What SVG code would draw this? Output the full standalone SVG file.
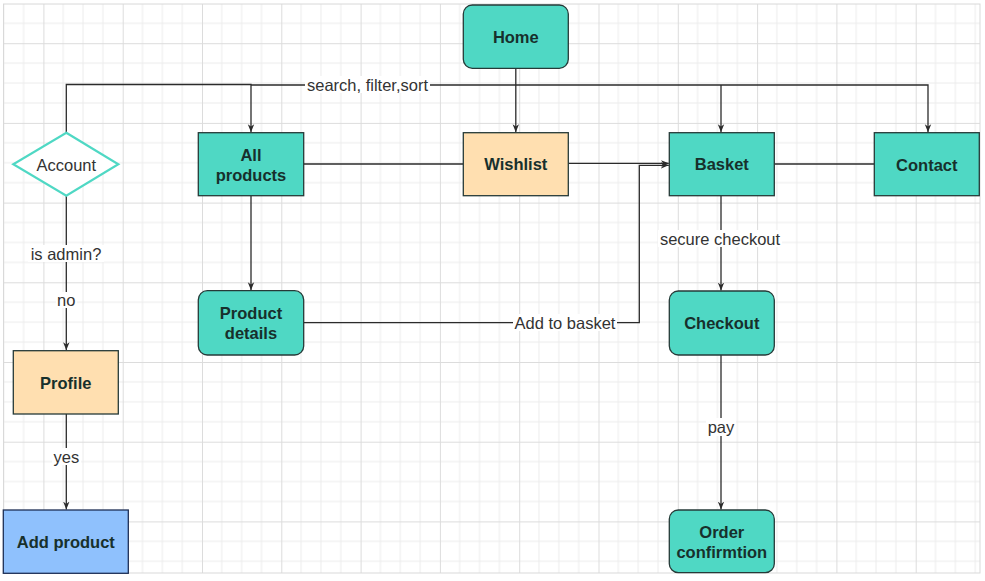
<svg xmlns="http://www.w3.org/2000/svg" width="985" height="581" viewBox="0 0 985 581">
  <style>
    .node { stroke: #263a38; stroke-width: 1.3; }
    .teal { fill: #4fd8c4; }
    .peach { fill: #ffdfb0; }
    .blue { fill: #8fc1fd; stroke: #1d2f55; }
    .title { font-family: "Liberation Sans", Arial, sans-serif; font-size: 16.5px; font-weight: bold; fill: #17302c; text-anchor: middle; dominant-baseline: central; }
    .plain { font-family: "Liberation Sans", Arial, sans-serif; font-size: 16.5px; fill: #333333; text-anchor: middle; dominant-baseline: central; }
    .edge { fill: none; stroke: #2b2b2b; stroke-width: 1.3; }
    .arrow { marker-end: url(#head); }
    .lbl-bg { fill: #ffffff; }
  </style>
  <defs>
    <pattern id="grid" patternUnits="userSpaceOnUse" x="43.4" y="43.2" width="79.3" height="79.7">
      <path d="M19.8,0V79.7M39.65,0V79.7M59.5,0V79.7M0,19.9H79.3M0,39.85H79.3M0,59.8H79.3" stroke="#ececec" stroke-width="1" fill="none"/>
      <path d="M0.5,0V79.7M0,0.5H79.3" stroke="#dcdcdc" stroke-width="1" fill="none"/>
    </pattern>
    <marker id="head" viewBox="0 0 10 10" refX="10" refY="5" markerWidth="8" markerHeight="8" markerUnits="userSpaceOnUse" orient="auto">
      <path d="M0,1 L10,5 L0,9 L3,5 z" fill="#2b2b2b"/>
    </marker>
  </defs>

  <!-- canvas background and grid -->
  <rect x="0" y="0" width="985" height="581" fill="#ffffff"/>
  <rect x="3.5" y="4" width="976.5" height="569" fill="url(#grid)" stroke="#d9d9d9" stroke-width="1"/>

  <!-- connectors -->
  <g id="connectors">
    <path class="edge arrow" d="M515.8,68.3 V132.2"/>
    <path class="edge arrow" d="M66.3,132.7 V84.5 H251 V132.2"/>
    <path class="edge arrow" d="M251,85 H928 V132.2"/>
    <path class="edge arrow" d="M721,85 V132.2"/>
    <path class="edge" d="M303.7,164 H463.3"/>
    <path class="edge arrow" d="M568.3,163.3 H668.8"/>
    <path class="edge arrow" d="M303.7,322.7 H639.3 V165.3 H668.8"/>
    <path class="edge arrow" d="M251,195.7 V290.2"/>
    <path class="edge" d="M774.3,164 H874.3"/>
    <path class="edge arrow" d="M721,195.7 V290.5"/>
    <path class="edge arrow" d="M721,355 V509.5"/>
    <path class="edge arrow" d="M66.3,195.7 V350.2"/>
    <path class="edge arrow" d="M66.3,414 V509.5"/>

    <!-- edge labels -->
    <rect class="lbl-bg" x="305" y="76" width="125" height="17"/>
    <text class="plain" x="367.5" y="84.5">search, filter,sort</text>
    <rect class="lbl-bg" x="513" y="314" width="104" height="17"/>
    <text class="plain" x="565" y="322.7">Add to basket</text>
    <rect class="lbl-bg" x="658" y="230" width="124" height="17"/>
    <text class="plain" x="720" y="238.5">secure checkout</text>
    <rect class="lbl-bg" x="706" y="418" width="30" height="18"/>
    <text class="plain" x="721" y="426.7">pay</text>
    <rect class="lbl-bg" x="28" y="245" width="76" height="17"/>
    <text class="plain" x="66" y="253.5">is admin?</text>
    <rect class="lbl-bg" x="56" y="292" width="21" height="16"/>
    <text class="plain" x="66.3" y="300">no</text>
    <rect class="lbl-bg" x="52" y="448" width="29" height="17"/>
    <text class="plain" x="66.3" y="456.5">yes</text>
  </g>

  <!-- nodes -->
  <g id="home">
    <rect class="node teal" x="463.3" y="5" width="105" height="63.3" rx="9"/>
    <text class="title" x="515.8" y="36.7">Home</text>
  </g>
  <g id="account">
    <polygon points="66.3,132.7 118.3,164.2 66.3,195.7 13.3,164.2" fill="#ffffff" stroke="#4fd8c4" stroke-width="2.2"/>
    <text class="plain" x="66.3" y="164.5">Account</text>
  </g>
  <g id="all-products">
    <rect class="node teal" x="198.3" y="132.7" width="105.4" height="63"/>
    <text class="title" x="251" y="155">All</text>
    <text class="title" x="251" y="175">products</text>
  </g>
  <g id="wishlist">
    <rect class="node peach" x="463.3" y="132.7" width="105" height="63"/>
    <text class="title" x="515.8" y="164">Wishlist</text>
  </g>
  <g id="basket">
    <rect class="node teal" x="669.3" y="132.7" width="105" height="63"/>
    <text class="title" x="721.8" y="164">Basket</text>
  </g>
  <g id="contact">
    <rect class="node teal" x="874.3" y="132.7" width="105" height="63"/>
    <text class="title" x="926.8" y="164.5">Contact</text>
  </g>
  <g id="product-details">
    <rect class="node teal" x="198.3" y="290.7" width="105.4" height="64.3" rx="9"/>
    <text class="title" x="251" y="313">Product</text>
    <text class="title" x="251" y="333">details</text>
  </g>
  <g id="checkout">
    <rect class="node teal" x="669.3" y="291" width="105" height="64" rx="9"/>
    <text class="title" x="721.8" y="322.7">Checkout</text>
  </g>
  <g id="order-confirmation">
    <rect class="node teal" x="669.3" y="510" width="105" height="62.7" rx="9"/>
    <text class="title" x="721.8" y="532.3">Order</text>
    <text class="title" x="721.8" y="552.3">confirmtion</text>
  </g>
  <g id="profile">
    <rect class="node peach" x="13.3" y="350.7" width="105" height="63.3"/>
    <text class="title" x="65.8" y="382.7">Profile</text>
  </g>
  <g id="add-product">
    <rect class="node blue" x="3.3" y="510" width="125" height="63.3"/>
    <text class="title" x="65.8" y="541.7">Add product</text>
  </g>
</svg>
